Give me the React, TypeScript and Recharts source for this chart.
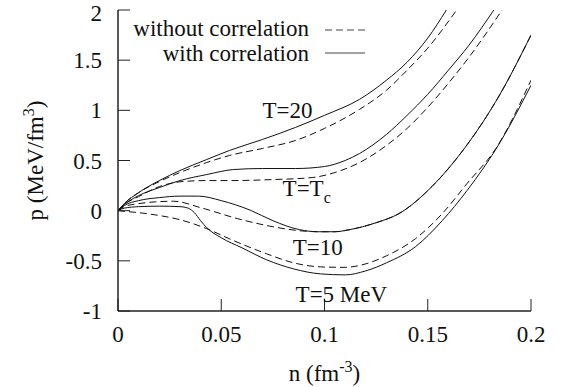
import React from "react";
import { LineChart, Line, XAxis, YAxis, ReferenceDot, Label } from "recharts";

const FONT = "Liberation Serif, Times New Roman, DejaVu Serif, serif";
const INK = "#111";

const xTicks = [0, 0.05, 0.1, 0.15, 0.2];
const yTicks = [-1, -0.5, 0, 0.5, 1, 1.5, 2];

// [n, p] pairs
const t20With = [
  [0, 0], [0.003, 0.07], [0.01, 0.18], [0.02, 0.3], [0.03, 0.4], [0.043, 0.51],
  [0.054, 0.6], [0.07, 0.71], [0.086, 0.83], [0.1, 0.95], [0.117, 1.11],
  [0.13, 1.3], [0.14, 1.48], [0.15, 1.72], [0.159, 2.0],
];
const t20Without = [
  [0, 0], [0.003, 0.07], [0.01, 0.18], [0.02, 0.29], [0.03, 0.38], [0.043, 0.48],
  [0.054, 0.55], [0.07, 0.62], [0.086, 0.7], [0.1, 0.82], [0.117, 1.01],
  [0.13, 1.2], [0.14, 1.4], [0.15, 1.62], [0.164, 2.0],
];
const tcWith = [
  [0, 0], [0.003, 0.06], [0.01, 0.15], [0.02, 0.23], [0.03, 0.3], [0.043, 0.36],
  [0.056, 0.41], [0.07, 0.42], [0.086, 0.42], [0.1, 0.44], [0.11, 0.5],
  [0.117, 0.57], [0.13, 0.76], [0.14, 0.95], [0.15, 1.16], [0.16, 1.4],
  [0.17, 1.65], [0.182, 2.0],
];
const tcWithout = [
  [0, 0], [0.003, 0.06], [0.01, 0.14], [0.02, 0.24], [0.031, 0.29], [0.043, 0.3],
  [0.054, 0.3], [0.075, 0.31], [0.094, 0.33], [0.105, 0.38], [0.117, 0.48],
  [0.13, 0.65], [0.14, 0.82], [0.15, 1.03], [0.16, 1.27], [0.17, 1.53],
  [0.186, 2.0],
];
const t10With = [
  [0, 0], [0.003, 0.05], [0.01, 0.1], [0.02, 0.13], [0.03, 0.145], [0.039, 0.145],
  [0.05, 0.1], [0.064, 0.005], [0.075, -0.1], [0.088, -0.19], [0.097, -0.21],
  [0.105, -0.21], [0.112, -0.19], [0.125, -0.12], [0.136, -0.03], [0.152, 0.24],
  [0.167, 0.6], [0.185, 1.16], [0.2, 1.75],
];
const t10Without = [
  [0, 0], [0.003, 0.04], [0.01, 0.07], [0.02, 0.09], [0.027, 0.094], [0.04, 0.03],
  [0.058, -0.08], [0.075, -0.16], [0.088, -0.2], [0.097, -0.21], [0.105, -0.21],
  [0.112, -0.19], [0.125, -0.12], [0.136, -0.03], [0.152, 0.24], [0.167, 0.6],
  [0.185, 1.16], [0.2, 1.75],
];
const t5With = [
  [0, 0], [0.003, 0.025], [0.01, 0.04], [0.02, 0.045], [0.03, 0.04], [0.034, 0.025],
  [0.037, -0.02], [0.04, -0.1], [0.043, -0.17], [0.05, -0.27], [0.06, -0.37],
  [0.072, -0.49], [0.085, -0.58], [0.098, -0.63], [0.11, -0.64], [0.12, -0.6],
  [0.13, -0.52], [0.144, -0.36], [0.157, -0.1], [0.169, 0.2], [0.185, 0.68],
  [0.2, 1.25],
];
const t5Without = [
  [0, 0], [0.005, -0.01], [0.01, -0.02], [0.019, -0.045], [0.03, -0.09],
  [0.043, -0.18], [0.055, -0.29], [0.072, -0.43], [0.085, -0.52], [0.098, -0.56],
  [0.11, -0.565], [0.12, -0.53], [0.13, -0.45], [0.144, -0.28], [0.157, -0.03],
  [0.169, 0.27], [0.183, 0.62], [0.2, 1.3],
];

const curveLabels = [
  { n: 0.07, p: 0.924, text: "T=20", sub: "" },
  { n: 0.0797, p: 0.147, text: "T=T", sub: "c" },
  { n: 0.0846, p: -0.441, text: "T=10", sub: "" },
  { n: 0.086, p: -0.908, text: "T=5 MeV", sub: "" },
];

const toPts = (arr: number[][]) => arr.map(([n, p]) => ({ n, p }));

const series = [
  { key: "t20-wo", data: t20Without, dashed: true },
  { key: "tc-wo", data: tcWithout, dashed: true },
  { key: "t10-wo", data: t10Without, dashed: true },
  { key: "t5-wo", data: t5Without, dashed: true },
  { key: "t20-w", data: t20With, dashed: false },
  { key: "tc-w", data: tcWith, dashed: false },
  { key: "t10-w", data: t10With, dashed: false },
  { key: "t5-w", data: t5With, dashed: false },
];

const textStyle = { fontFamily: FONT };
const tickStyle = { fill: INK, fontSize: 23, fontFamily: FONT, style: textStyle };
const frame = { stroke: "#222", strokeWidth: 1.5 };

// left tick labels; the top one is nudged down so it stays inside the page
const YTick = ({ x, y, payload }: any) => (
  <text
    x={x}
    y={Math.max(y, 13)}
    dy="0.355em"
    textAnchor="end"
    style={textStyle}
    fontSize={23}
    fill={INK}
  >
    {payload.value}
  </text>
);

const XTitle = ({ viewBox }: any) => (
  <text
    x={viewBox.x + viewBox.width / 2}
    y={viewBox.y + 70}
    textAnchor="middle"
    style={textStyle}
    fontSize={23}
    fill={INK}
  >
    n (fm
    <tspan dy={-9} fontSize={16}>-3</tspan>
    <tspan dy={9}>)</tspan>
  </text>
);

const YTitle = ({ viewBox }: any) => {
  const cx = 43;
  const cy = viewBox.y + viewBox.height / 2;
  return (
    <text
      x={cx}
      y={cy}
      transform={`rotate(-90 ${cx} ${cy})`}
      textAnchor="middle"
      style={textStyle}
      fontSize={23}
      fill={INK}
    >
      p (MeV/fm
      <tspan dy={-9} fontSize={16}>3</tspan>
      <tspan dy={9}>)</tspan>
    </text>
  );
};

const curveLabel = (text: string, sub: string) => (props: any) => {
  const { x, y } = props.viewBox;
  return (
    <text x={x} y={y} style={textStyle} fontSize={23} fill={INK}>
      {text}
      {sub ? <tspan dy={7} fontSize={16}>{sub}</tspan> : null}
    </text>
  );
};

export default function App() {
  return (
    <div style={{ position: "absolute", left: 0, top: 0, fontFamily: FONT }}>
      <LineChart
        width={564}
        height={387}
        margin={{ top: 10, right: 33, left: 0, bottom: 0 }}
        style={textStyle}
      >
        <XAxis
          dataKey="n"
          type="number"
          domain={[0, 0.2]}
          ticks={xTicks}
          interval={0}
          allowDataOverflow
          height={76}
          tickSize={-12}
          tickMargin={27}
          axisLine={frame}
          tickLine={{ stroke: "#222" }}
          tick={tickStyle}
        >
          <Label content={XTitle} />
        </XAxis>
        <XAxis
          xAxisId="top"
          orientation="top"
          type="number"
          domain={[0, 0.2]}
          ticks={xTicks}
          interval={0}
          allowDataOverflow
          height={0}
          tickSize={-12}
          tickFormatter={() => ""}
          axisLine={frame}
          tickLine={{ stroke: "#222" }}
        />
        <YAxis
          type="number"
          domain={[-1, 2]}
          ticks={yTicks}
          interval={0}
          allowDataOverflow
          width={118}
          tickSize={-12}
          tickMargin={28}
          axisLine={frame}
          tickLine={{ stroke: "#222" }}
          tick={<YTick />}
        >
          <Label content={YTitle} />
        </YAxis>
        <YAxis
          yAxisId="right"
          orientation="right"
          type="number"
          domain={[-1, 2]}
          ticks={yTicks}
          interval={0}
          allowDataOverflow
          width={0}
          tickSize={-12}
          tickFormatter={() => ""}
          axisLine={frame}
          tickLine={{ stroke: "#222" }}
        />
        {series.map((s) => (
          <Line
            key={s.key}
            data={toPts(s.data)}
            dataKey="p"
            type="monotone"
            stroke={INK}
            strokeWidth={1}
            strokeDasharray={s.dashed ? "7 4" : undefined}
            dot={false}
            activeDot={false}
            isAnimationActive={false}
          />
        ))}
        {curveLabels.map((c) => (
          <ReferenceDot
            key={c.text + c.sub}
            x={c.n}
            y={c.p}
            r={0}
            fill="none"
            stroke="none"
            label={curveLabel(c.text, c.sub)}
          />
        ))}
        <g style={textStyle} fontSize={23} fill={INK}>
          <text x={309} y={36} textAnchor="end">without correlation</text>
          <text x={309} y={61} textAnchor="end">with correlation</text>
          <line x1={325} x2={365} y1={30} y2={30} stroke="#444" strokeWidth={1} strokeDasharray="7 4" />
          <line x1={325} x2={365} y1={53} y2={53} stroke="#444" strokeWidth={1} />
        </g>
      </LineChart>
    </div>
  );
}
